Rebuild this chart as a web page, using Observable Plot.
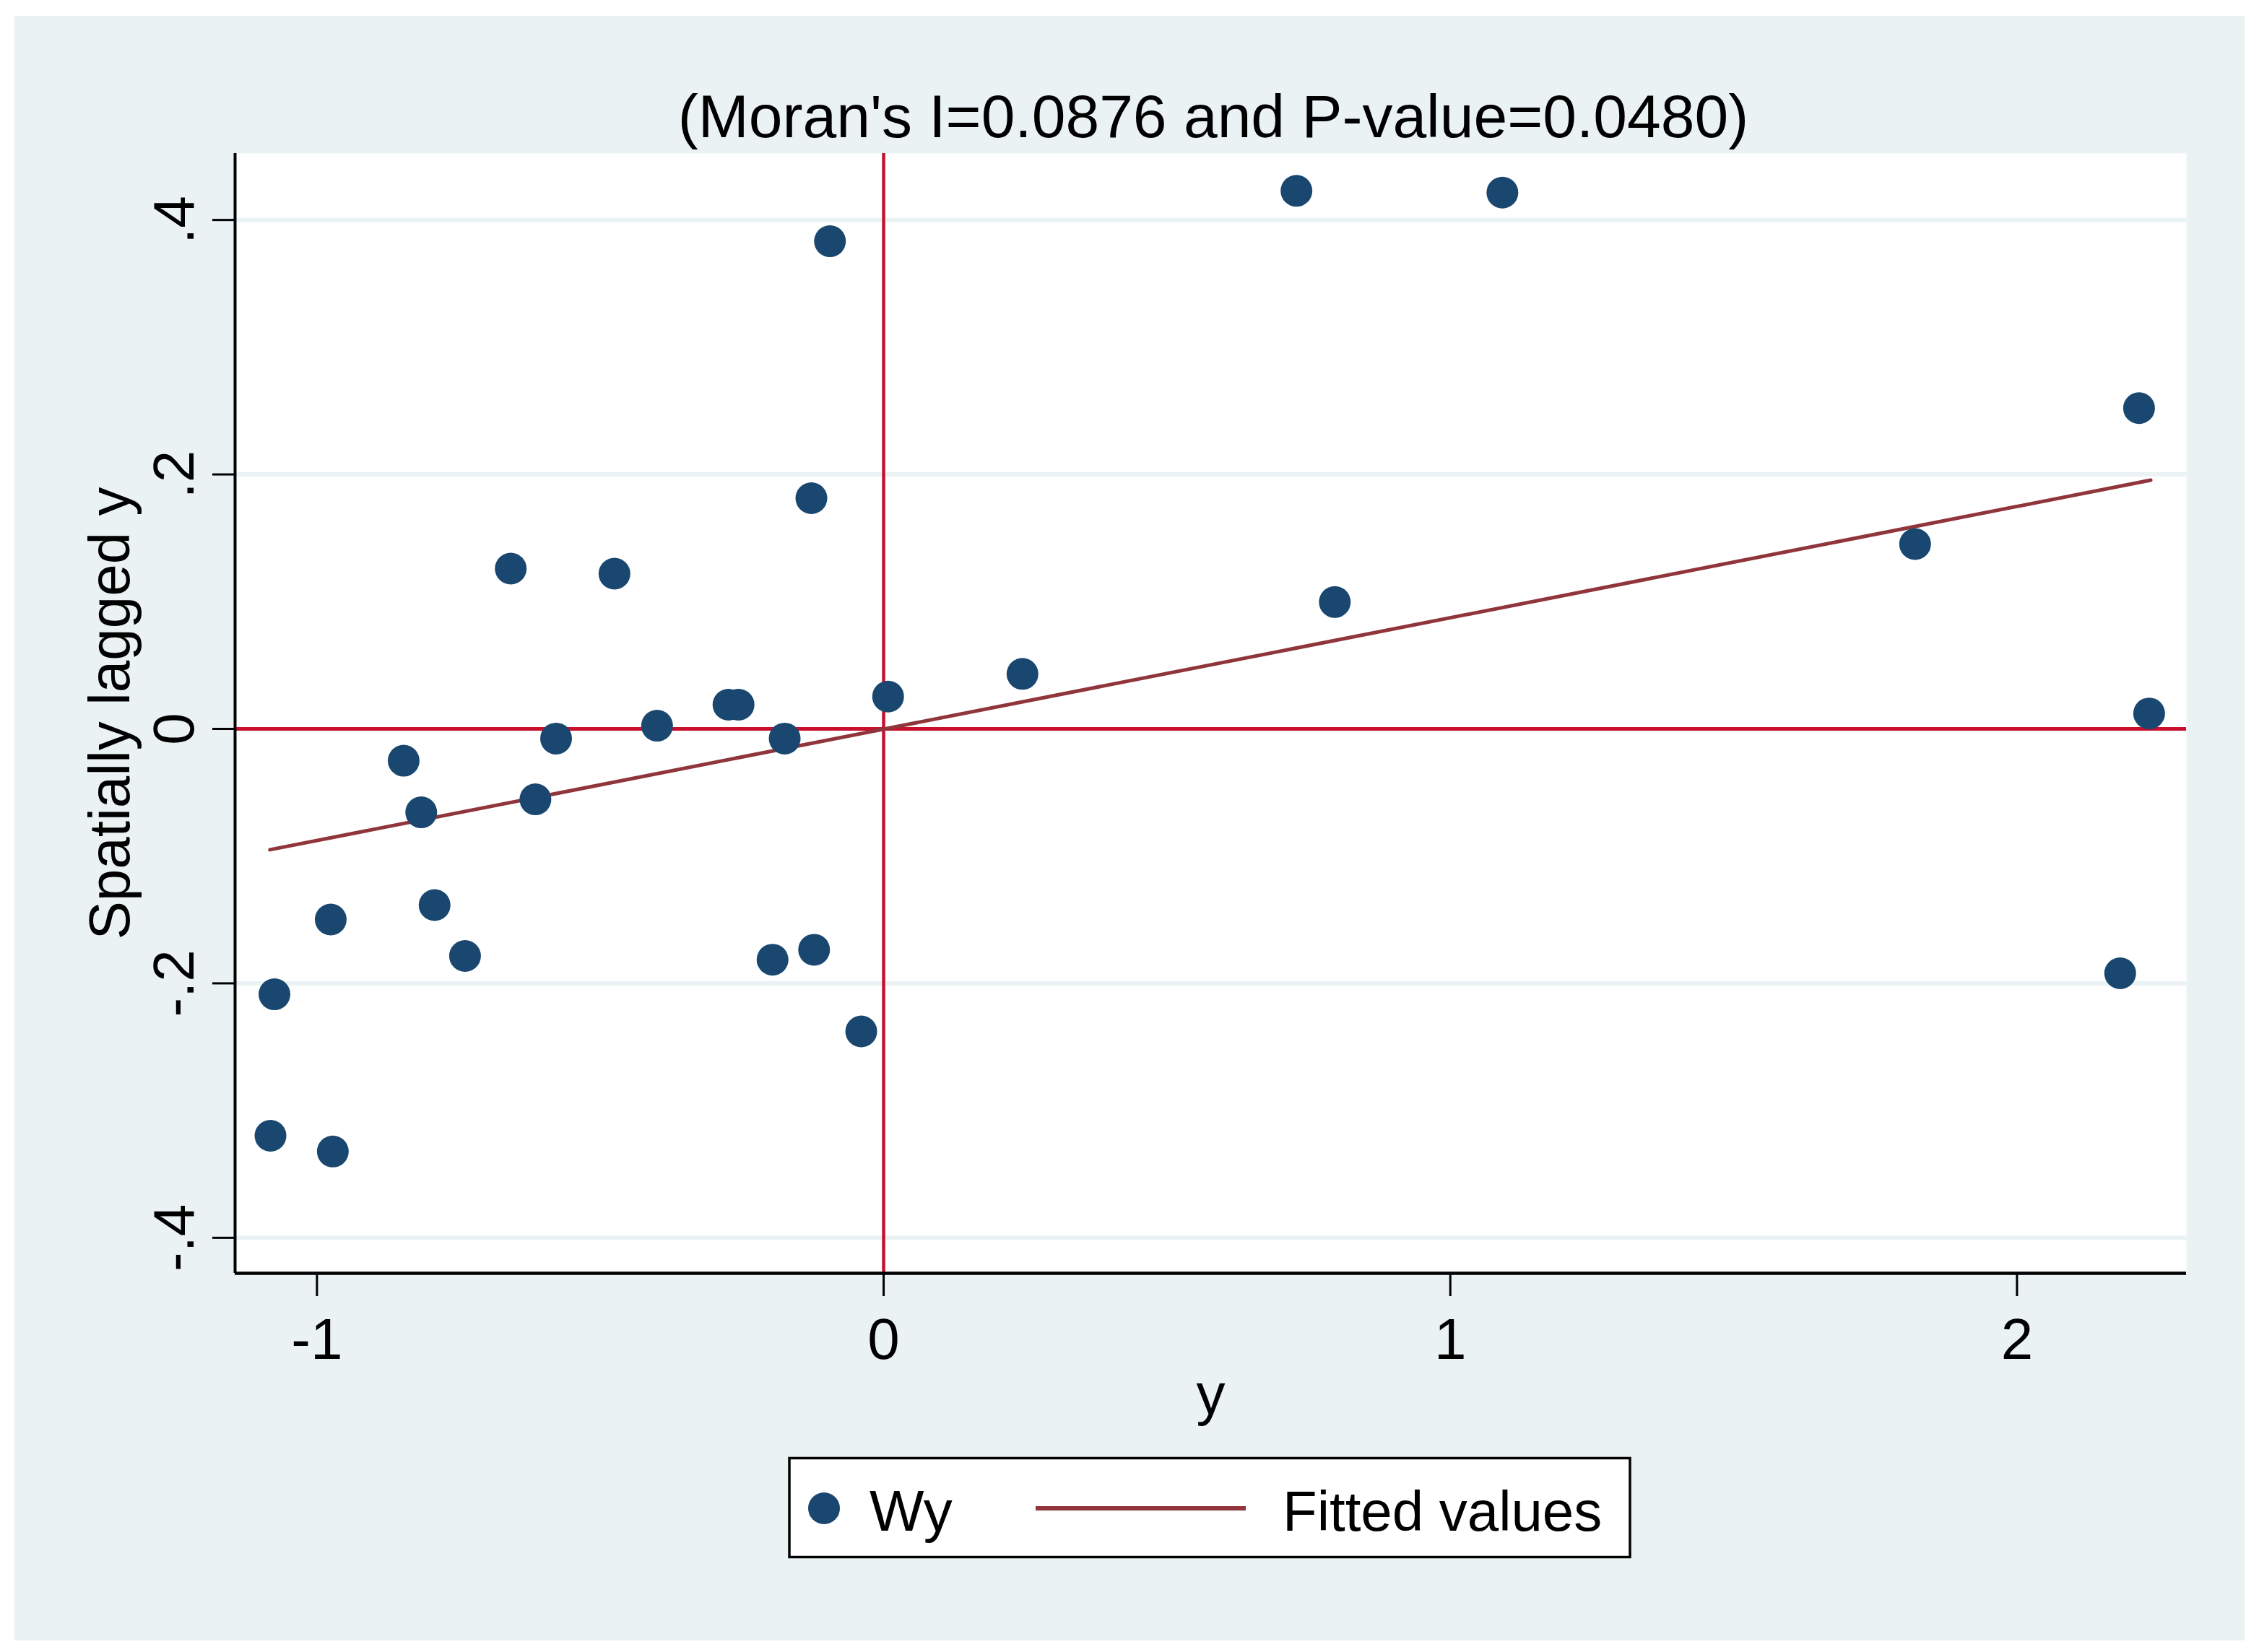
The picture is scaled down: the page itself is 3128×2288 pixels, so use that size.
<!DOCTYPE html>
<html>
<head>
<meta charset="utf-8">
<script src="https://cdn.jsdelivr.net/npm/d3@7"></script>
<script src="https://cdn.jsdelivr.net/npm/@observablehq/plot@0.6"></script>
<style>
  html, body { margin: 0; padding: 0; background: #ffffff; }
  #wrap { position: relative; width: 3128px; height: 2288px; overflow: hidden; font-family: "Liberation Sans", Arial, sans-serif; }
  #bg { position: absolute; left: 20px; top: 22px; width: 3088px; height: 2250px; background: #eaf2f3; }
  #chart { position: absolute; left: 0; top: 0; }
  #title { position: absolute; left: 1680px; top: 119px; transform: translateX(-50%); font-size: 84px; line-height: 84px; white-space: nowrap; color: #000; }
  #legend { position: absolute; left: 0; top: 0; }
</style>
</head>
<body>
<div id="wrap">
  <div id="bg"></div>
  <div id="chart"></div>
  <div id="title"></div>
  <div id="legend"></div>
</div>
<script>
// ---- data ----
const titleText = "(Moran's I=0.0876 and P-value=0.0480)";
const xLabel = "y";
const yLabel = "Spatially lagged y";
const legendLabels = ["Wy", "Fitted values"];

const yValues = [0.7285, 1.0919, -0.0947, 2.2154, -0.1275, -0.658, -0.475, 1.8202, 0.7962, 0.245,
                 0.0079, -0.2738, -0.2560, -0.3998, -0.578, -0.1746, 2.2332, -0.847, -0.816, -0.6145,
                 -0.7924, -0.9757, -0.7387, -0.196, -0.1227, -1.075, 2.1821, -0.0395, -1.082, -0.972];
const wyValues = [0.4229, 0.4215, 0.3833, 0.2521, 0.1813, 0.1260, 0.1220, 0.1453, 0.0997, 0.0432,
                  0.0254, 0.0190, 0.0190, 0.0025, -0.0076, -0.0076, 0.0121, -0.0250, -0.0656, -0.0554,
                  -0.1385, -0.1498, -0.1785, -0.1814, -0.1736, -0.2086, -0.1921, -0.2378, -0.3198, -0.3322];

const fitX = [-1.083, 2.236];
const fitY = [-0.0950, 0.1955];

const xTicks = [-1, 0, 1, 2];
const xTickLabels = ["-1", "0", "1", "2"];
const yTicks = [-0.4, -0.2, 0, 0.2, 0.4];
const yTickLabels = ["-.4", "-.2", "0", ".2", ".4"];
const gridTicks = [-0.4, -0.2, 0.2, 0.4];

const xDomain = [-1.1445, 2.299];
const yDomain = [-0.4279, 0.4523];

// ---- build tables ----
const points = yValues.map((x, i) => ({x, wy: wyValues[i]}));
const fitted = fitX.map((x, i) => ({x, y: fitY[i]}));

const navy = "#1a476f";
const maroon = "#90353b";
const refRed = "#c8102e";
const gridCol = "#eaf2f3";
const font = "Liberation Sans, Arial, sans-serif";

const chart = Plot.plot({
  width: 3128,
  height: 2288,
  marginLeft: 325,
  marginRight: 101,
  marginTop: 212,
  marginBottom: 525,
  style: {background: "transparent", fontFamily: font, fontSize: "80px", color: "#000", overflow: "visible"},
  x: {domain: xDomain},
  y: {domain: yDomain},
  marks: [
    Plot.frame({fill: "#ffffff", stroke: null}),
    Plot.ruleY(gridTicks, {stroke: gridCol, strokeWidth: 6}),
    Plot.ruleY([0], {stroke: refRed, strokeWidth: 5}),
    Plot.ruleX([0], {stroke: refRed, strokeWidth: 4.5}),
    Plot.line(fitted, {x: "x", y: "y", stroke: maroon, strokeWidth: 5}),
    Plot.dot(points, {x: "x", y: "wy", r: 22, fill: navy, stroke: null}),
    Plot.ruleX([xDomain[0]], {stroke: "#000", strokeWidth: 4}),
    Plot.ruleY([yDomain[0]], {stroke: "#000", strokeWidth: 4.5}),
    Plot.axisX(xTicks, {
      tickSize: 32, tickPadding: 30, strokeWidth: 3, stroke: "#000", fill: "#000",
      tickFormat: (d) => xTickLabels[xTicks.indexOf(d)], label: null, fontSize: 80
    }),
    Plot.axisY(yTicks, {
      tickSize: 31, tickPadding: 27, tickRotate: -90, strokeWidth: 3, stroke: "#000", fill: "#000",
      tickFormat: (d) => yTickLabels[yTicks.indexOf(d)], label: null, fontSize: 80
    }),
    Plot.text([yLabel], {frameAnchor: "left", rotate: -90, dx: -147, lineAnchor: "bottom", textAnchor: "middle", fontSize: 80, fill: "#000"}),
    Plot.text([xLabel], {frameAnchor: "bottom", dy: 194, lineAnchor: "bottom", textAnchor: "middle", fontSize: 80, fill: "#000"})
  ]
});
document.getElementById("chart").appendChild(chart);

document.getElementById("title").textContent = titleText;

// ---- legend ----
const lg = d3.select("#legend").append("svg")
  .attr("width", 3128).attr("height", 2288)
  .style("position", "absolute").style("left", "0px").style("top", "0px")
  .style("font-family", font);
lg.append("rect").attr("x", 1093).attr("y", 2019.5).attr("width", 1164).attr("height", 137)
  .attr("fill", "#ffffff").attr("stroke", "#000").attr("stroke-width", 3.5);
lg.append("circle").attr("cx", 1141).attr("cy", 2089).attr("r", 22).attr("fill", navy);
lg.append("text").attr("x", 1204).attr("y", 2120).attr("font-size", 80).attr("fill", "#000").text(legendLabels[0]);
lg.append("line").attr("x1", 1434).attr("x2", 1725).attr("y1", 2089).attr("y2", 2089)
  .attr("stroke", maroon).attr("stroke-width", 6);
lg.append("text").attr("x", 1776).attr("y", 2120).attr("font-size", 78).attr("fill", "#000").text(legendLabels[1]);
</script>
</body>
</html>
